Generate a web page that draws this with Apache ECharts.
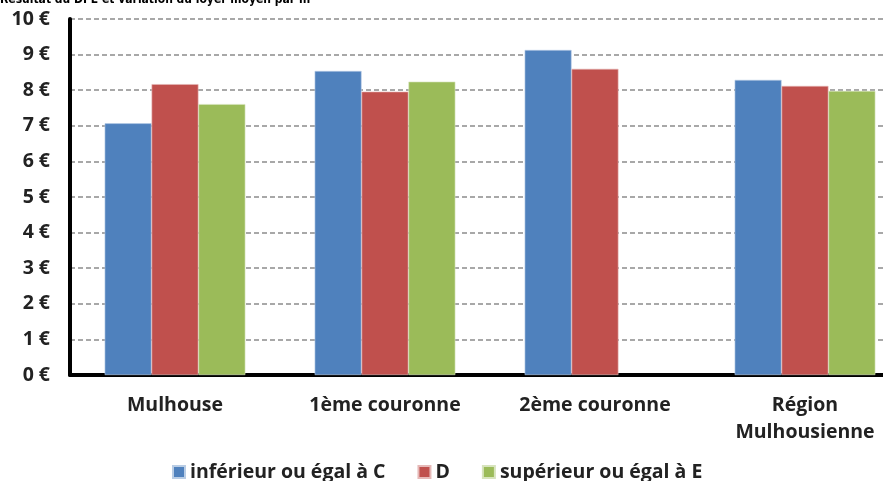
<!DOCTYPE html>
<html>
<head>
<meta charset="utf-8">
<script src="https://cdn.jsdelivr.net/npm/echarts@6/dist/echarts.min.js"></script>
<style>
    html, body { margin: 0; padding: 0; background: #fff; overflow: hidden; }
    #chart { width: 910px; height: 481px; }
</style>
</head>
<body>
<div id="chart"></div>
<script>
    // le graphique d'origine est coupé à droite : le conteneur déborde de la fenêtre
    var categories = ['Mulhouse', '1ème couronne', '2ème couronne', 'Région\nMulhousienne'];
    var seriesNames = ['inférieur ou égal à C', 'D', 'supérieur ou égal à E'];
    var valuesC = [7.07, 8.54, 9.13, 8.29];
    var valuesD = [8.17, 7.96, 8.60, 8.12];
    var valuesE = [7.61, 8.24, null, 7.98];
    var yTicks = [0, 1, 2, 3, 4, 5, 6, 7, 8, 9, 10];

    var colors = ['#4F81BD', '#C0504D', '#9BBB59'];
    var borders = ['#B9CDE5', '#E6B9B8', '#D7E4BD'];
    var font = 'Open Sans';
    var fs = 19.5;

    var chart = echarts.init(document.getElementById('chart'));

    var allValues = [valuesC, valuesD, valuesE];
    var series = [];
    for (var i = 0; i < seriesNames.length; i++) {
        series.push({
            name: seriesNames[i],
            type: 'bar',
            data: allValues[i],
            barGap: '0%',
            barCategoryGap: '33%',
            itemStyle: { color: colors[i], borderColor: borders[i], borderWidth: 0.6 }
        });
    }

    chart.setOption({
        animation: false,
        color: colors,
        title: {
            text: 'Résultat du DPE et variation du loyer moyen par m²',
            left: 0,
            top: -6,
            padding: 0,
            textStyle: { fontFamily: 'DejaVu Sans Condensed', fontWeight: 'bold', fontSize: 12, color: '#000' }
        },
        legend: {
            bottom: -1,
            left: 172,
            padding: 0,
            itemWidth: 12,
            itemHeight: 12,
            itemGap: 32,
            icon: 'rect',
            textStyle: { fontFamily: font, fontWeight: 'bold', fontSize: fs, color: '#222' },
            data: seriesNames
        },
        grid: { left: 70, right: 0, top: 19, bottom: 106 },
        xAxis: {
            type: 'category',
            data: categories,
            axisLine: { lineStyle: { color: '#000', width: 4 } },
            axisTick: { show: false },
            axisLabel: {
                margin: 17,
                lineHeight: 27,
                fontFamily: font, fontWeight: 'bold', fontSize: fs, color: '#222',
                interval: 0
            }
        },
        yAxis: {
            type: 'value',
            min: 0,
            max: 10,
            interval: 1,
            axisLine: { show: true, lineStyle: { color: '#000', width: 4 } },
            axisTick: { show: false },
            splitLine: { lineStyle: { color: '#8c8c8c', type: [5, 3], width: 1.5 } },
            axisLabel: {
                margin: 20,
                fontFamily: font, fontWeight: 'bold', fontSize: fs, color: '#222',
                formatter: function (v) { return yTicks.indexOf(v) >= 0 ? v + ' €' : ''; }
            }
        },
        series: series
    });
</script>
</body>
</html>
